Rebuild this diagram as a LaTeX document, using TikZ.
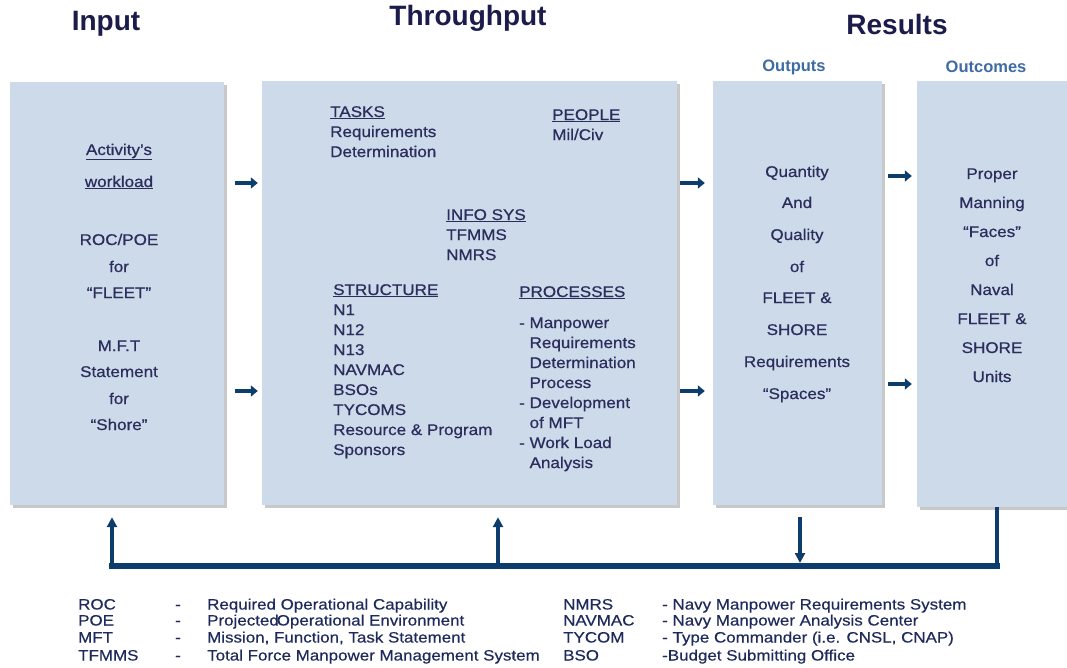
\documentclass[tikz,border=0pt]{standalone}
\usepackage{fontspec}
\setmainfont{Liberation Sans}
\newfontfamily\bodyf{Liberation Sans}[FakeStretch=1.1, FakeBold=0.6]
\newfontfamily\legf{Liberation Sans}[FakeStretch=1.13, FakeBold=0.4]
\usetikzlibrary{arrows.meta,calc,shadows}
\definecolor{boxfill}{HTML}{CCDAE9}
\definecolor{txt}{HTML}{2B2D5C}
\definecolor{ttl}{HTML}{1C1C4C}
\definecolor{subttl}{HTML}{3F6BA5}
\definecolor{arrc}{HTML}{0C3D6C}
\definecolor{legc}{HTML}{1E2A5C}
\begin{document}
\begin{tikzpicture}[x=1pt,y=-1pt,
  box/.style={fill=boxfill, draw=none, inner sep=0pt,
    drop shadow={shadow xshift=3pt, shadow yshift=-3pt, opacity=0.3, fill=black!70}},
  title/.style={font=\fontsize{28}{32}\selectfont\bfseries, text=ttl, inner sep=0pt},
  subtitle/.style={font=\fontsize{16.5}{19}\selectfont\bfseries, text=subttl, inner sep=0pt},
  ctext/.style={font=\bodyf\fontsize{15.5}{18}\selectfont, text=txt, inner sep=0pt, text height=11pt, text depth=3pt},
  blk/.style={font=\bodyf\fontsize{15.5}{20}\selectfont, text=txt, inner sep=0pt, align=left, anchor=north west},
  leg/.style={font=\legf\fontsize{15}{17}\selectfont, text=legc, inner sep=0pt, anchor=west, text height=10pt, text depth=3pt},
  smallarr/.style={-{Triangle[length=7pt,width=11pt]}, line width=4pt, draw=arrc},
  fbline/.style={line width=6pt, draw=arrc, line cap=rect},
  fbup/.style={-{Triangle[length=10pt,width=10pt]}, line width=3.5pt, draw=arrc},
  fbplain/.style={line width=4pt, draw=arrc}
]
\useasboundingbox (0,0) rectangle (1067,668);
\fill[white] (0,0) rectangle (1067,668);

% titles
\node[title] (tin) at (106,24) {Input};
\node[title] (tthr) at (468,18) {Throughput};
\node[title] (tres) at (897,24) {Results};
\node[subtitle] (tout) at (794,67) {Outputs};
\node[subtitle] (toutc) at (986,67) {Outcomes};

% boxes
\node[box, minimum width=214pt, minimum height=423pt] (inp) at (117,293.5) {};
\node[box, minimum width=415pt, minimum height=424pt] (thr) at (469.5,293) {};
\node[box, minimum width=169pt, minimum height=424pt] (outp) at (797.5,293) {};
\node[box, minimum width=153pt, minimum height=426pt] (outc) at (993.5,294) {};

% input text
\node[ctext] (i1) at (119,151) {\underline{Activity’s}};
\node[ctext] (i2) at (119,183) {\underline{workload}};
\node[ctext] (i3) at (119,241) {ROC/POE};
\node[ctext] (i4) at (119,268) {for};
\node[ctext] (i5) at (119,294) {“FLEET”};
\node[ctext] (i6) at (119,347) {M.F.T};
\node[ctext] (i7) at (119,373) {Statement};
\node[ctext] (i8) at (119,400) {for};
\node[ctext] (i9) at (119,426) {“Shore”};

% throughput text
\node[blk] (tasks) at (330,106) {\underline{TASKS}\\Requirements\\Determination};
\node[blk] (people) at (552,109) {\underline{PEOPLE}\\Mil/Civ};
\node[blk] (infosys) at (446,209) {\underline{INFO SYS}\\TFMMS\\NMRS};
\node[blk] (struct) at (333,284) {\underline{STRUCTURE}\\N1\\N12\\N13\\NAVMAC\\BSOs\\TYCOMS\\Resource \& Program\\Sponsors};
\node[blk] (proc) at (519,286) {\underline{PROCESSES}\\[11pt]- Manpower\\\hphantom{- }Requirements\\\hphantom{- }Determination\\\hphantom{- }Process\\- Development\\\hphantom{- }of MFT\\- Work Load\\\hphantom{- }Analysis};

% outputs text
\node[ctext] (o1) at (797,173) {Quantity};
\node[ctext] (o2) at (797,204) {And};
\node[ctext] (o3) at (797,236) {Quality};
\node[ctext] (o4) at (797,268) {of};
\node[ctext] (o5) at (797,299) {FLEET \&};
\node[ctext] (o6) at (797,331) {SHORE};
\node[ctext] (o7) at (797,363) {Requirements};
\node[ctext] (o8) at (797,395) {“Spaces”};

% outcomes text
\node[ctext] (c1) at (992,175) {Proper};
\node[ctext] (c2) at (992,204) {Manning};
\node[ctext] (c3) at (992,233) {“Faces”};
\node[ctext] (c4) at (992,262) {of};
\node[ctext] (c5) at (992,291) {Naval};
\node[ctext] (c6) at (992,320) {FLEET \&};
\node[ctext] (c7) at (992,349) {SHORE};
\node[ctext] (c8) at (992,378) {Units};

% arrow rows
\coordinate (ra) at (0,183);
\coordinate (rb) at (0,391);
\coordinate (rc) at (0,176);
\coordinate (rd) at (0,384);
\draw[smallarr] ($(inp.east |- ra)+(11,0)$) -- ($(thr.west |- ra)+(-4,0)$);
\draw[smallarr] ($(inp.east |- rb)+(11,0)$) -- ($(thr.west |- rb)+(-4,0)$);
\draw[smallarr] ($(thr.east |- ra)+(3,0)$) -- ($(outp.west |- ra)+(-8,0)$);
\draw[smallarr] ($(thr.east |- rb)+(3,0)$) -- ($(outp.west |- rb)+(-8,0)$);
\draw[smallarr] ($(outp.east |- rc)+(6,0)$) -- ($(outc.west |- rc)+(-5,0)$);
\draw[smallarr] ($(outp.east |- rd)+(6,0)$) -- ($(outc.west |- rd)+(-5,0)$);

% feedback loop
\coordinate (bl) at (112,566);
\coordinate (bm) at (498,566);
\coordinate (bo) at (800,566);
\coordinate (br) at (997,566);
\draw[fbline] (bl) -- (br);
\draw[fbup] (bl) -- ($(bl |- inp.south)+(0,12)$);
\draw[fbup] (bm) -- ($(bm |- thr.south)+(0,12)$);
\draw[fbup] ($(bo |- outp.south)+(0,12)$) -- ($(bo)+(0,-3)$);
\draw[fbplain] (br |- outc.south) -- (br);

% legend
\node[leg] (l1a) at (78,606) {ROC};
\node[leg] (l1b) at (175,606) {-};
\node[leg] (l1c) at (207,606) {Required Operational Capability};
\node[leg] (l2a) at (78,622) {POE};
\node[leg] (l2b) at (175,622) {-};
\node[leg] (l2c) at (207,622) {Projected\kern-2pt Operational Environment};
\node[leg] (l3a) at (78,639) {MFT};
\node[leg] (l3b) at (175,639) {-};
\node[leg] (l3c) at (207,639) {Mission, Function, Task Statement};
\node[leg] (l4a) at (78,657) {TFMMS};
\node[leg] (l4b) at (175,657) {-};
\node[leg] (l4c) at (207,657) {Total Force Manpower Management System};
\node[leg] (r1a) at (563,606) {NMRS};
\node[leg] (r1c) at (662,606) {- Navy Manpower Requirements System};
\node[leg] (r2a) at (563,622) {NAVMAC};
\node[leg] (r2c) at (662,622) {- Navy Manpower Analysis Center};
\node[leg] (r3a) at (563,639) {TYCOM};
\node[leg] (r3c) at (662,639) {- Type Commander (i.e. CNSL, CNAP)};
\node[leg] (r4a) at (563,657) {BSO};
\node[leg] (r4c) at (662,657) {-Budget Submitting Office};
\end{tikzpicture}
\end{document}
